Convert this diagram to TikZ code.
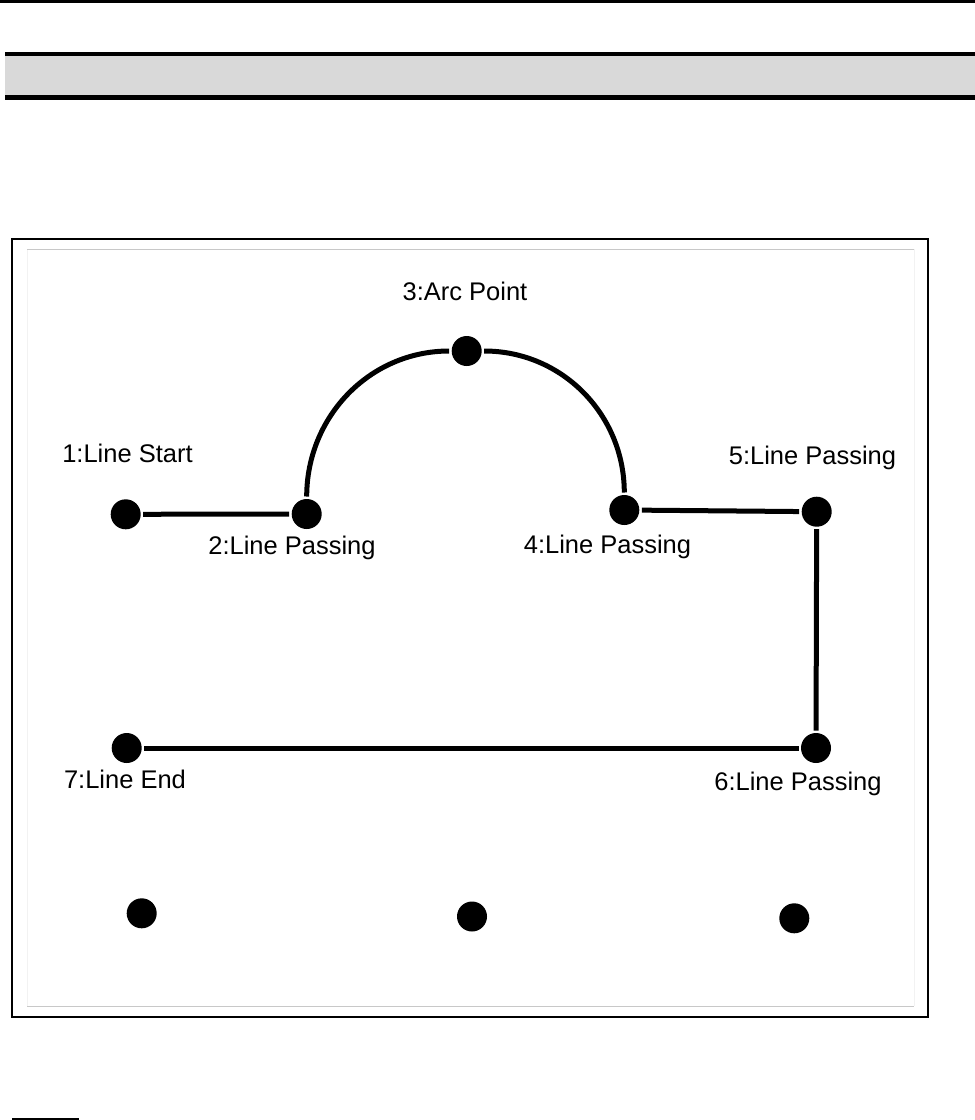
\documentclass[tikz,border=0pt]{standalone}
\usepackage{fontspec}
\setmainfont{Liberation Sans}
\usepackage{tikz}
\usetikzlibrary{positioning}
\usepackage{xcolor}
\definecolor{barfill}{RGB}{217, 217, 217}
\definecolor{rulegray}{RGB}{200, 200, 200}
\definecolor{faintgray}{RGB}{242, 242, 242}

\begin{document}
\begin{tikzpicture}[x=1pt, y=-1pt,
      dot/.style={circle, fill=black, minimum size=30pt, inner sep=0pt, outer sep=2.5pt},
      conn/.style={line width=5pt},
      lbl/.style={anchor=base, inner sep=0pt, font=\fontsize{25.5}{30}\selectfont}
   ]
      \useasboundingbox (0,0) rectangle (975,1120);

      % Page header
      \draw[line width=3pt] (0,1.5) -- (975,1.5);
      \fill[barfill] (5,55.7) rectangle (975,95);
      \draw[line width=4pt] (5,53.7) -- (975,53.7);
      \draw[line width=5pt] (5,97.5) -- (975,97.5);

      % Frame
      \draw[line width=2pt] (11.8,238.5) rectangle (928,1016.8);
      \draw[faintgray, line width=1pt] (27,249.3) -- (27,1006.3);
      \draw[faintgray, line width=1pt] (914,249.3) -- (914,1006.3);
      \draw[rulegray, line width=1.3pt] (27,249.3) -- (914,249.3);
      \draw[rulegray, line width=1.3pt] (27,1006.3) -- (914,1006.3);

      % Points
      \node (p1) [dot] at (125.7,514.3) {};
      \node (p2) [dot] at (306.7,514)   {};
      \node (p3) [dot] at (466.7,351)   {};
      \node (p4) [dot] at (624.3,510)   {};
      \node (p5) [dot] at (816.7,511.7) {};
      \node (p6) [dot] at (816,748)     {};
      \node (p7) [dot] at (126.7,748)   {};

      % Bottom row
      \node (q1) [dot] at (141.7,913.3) {};
      \node (q2) [dot] at (472,916.5)   {};
      \node (q3) [dot] at (794.3,918.3) {};

      % Labels
      \node (l1) [lbl] at (127.5,462) {1:Line Start};
      \node (l2) [lbl] at (292,554)   {2:Line Passing};
      \node (l3) [lbl] at (465,300)   {3:Arc Point};
      \node (l4) [lbl] at (607.5,553) {4:Line Passing};
      \node (l5) [lbl] at (812.5,464) {5:Line Passing};
      \node (l6) [lbl] at (798,790)   {6:Line Passing};
      \node (l7) [lbl] at (125,788)   {7:Line End};

      % Path
      \draw[conn] (p1) -- (p2);
      \draw[conn] (p2) to[out=90, in=180] (p3) to[out=0, in=90] (p4);
      \draw[conn] (p4) -- (p5);
      \draw[conn] (p5) -- (p6);
      \draw[conn] (p6) -- (p7);

      % Note underline
      \draw[line width=2.5pt] (12,1119) -- (79,1119);
   \end{tikzpicture}
\end{document}
